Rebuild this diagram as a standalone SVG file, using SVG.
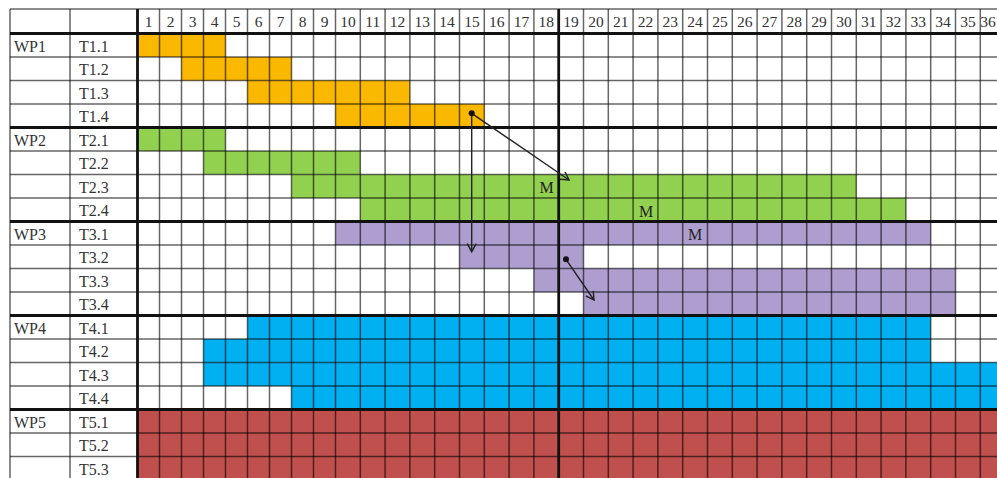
<svg xmlns="http://www.w3.org/2000/svg" width="997" height="478" viewBox="0 0 997 478">
<style>
text{font-family:"Liberation Serif","Times New Roman",serif;fill:#333;font-size:16px}
.h{text-anchor:middle;font-size:15.5px}
.m{text-anchor:middle;font-size:16px;fill:#222}
.o{fill:#FBB800}.g{fill:#92D050}.p{fill:#AE9ECF}.b{fill:#00B0F0}.r{fill:#C0504D}
.gl{stroke:#000;stroke-opacity:0.6;stroke-width:1.5;fill:none}
.tk{stroke:#111;stroke-width:2.8;fill:none}
.ar{stroke:#222;stroke-width:1.4;fill:none}
</style>
<defs>
<marker id="ah" markerWidth="12" markerHeight="12" refX="9" refY="5" orient="auto" markerUnits="userSpaceOnUse">
<path d="M1,0.5 L9,5 L1,9.5" fill="none" stroke="#222" stroke-width="1.4"/>
</marker>
</defs>
<rect x="0" y="0" width="997" height="478" fill="#fff"/>
<g id="bars">
<g id="wp1">
<rect class="o" x="137.5" y="33.5" width="88" height="23.5"/>
<rect class="o" x="181.5" y="57" width="110" height="23.5"/>
<rect class="o" x="247.5" y="80.5" width="162.4" height="23.5"/>
<rect class="o" x="335.5" y="104" width="148.8" height="23.5"/>
</g>
<g id="wp2">
<rect class="g" x="137.5" y="127.5" width="88" height="23.5"/>
<rect class="g" x="203.5" y="151" width="156.8" height="23.5"/>
<rect class="g" x="291.5" y="174.5" width="564.8" height="23.5"/>
<rect class="g" x="360.3" y="198" width="545.6" height="23.5"/>
</g>
<g id="wp3">
<rect class="p" x="335.5" y="221.5" width="595.2" height="23.5"/>
<rect class="p" x="459.5" y="245" width="124" height="23.5"/>
<rect class="p" x="533.9" y="268.5" width="421.6" height="23.5"/>
<rect class="p" x="583.5" y="292" width="372" height="23.5"/>
</g>
<g id="wp4">
<rect class="b" x="247.5" y="315.5" width="683.2" height="23.5"/>
<rect class="b" x="203.5" y="339" width="727.2" height="23.5"/>
<rect class="b" x="203.5" y="362.5" width="801.6" height="23.5"/>
<rect class="b" x="291.5" y="386" width="713.6" height="23.5"/>
</g>
<g id="wp5">
<rect class="r" x="137.5" y="409.5" width="867.6" height="70.5"/>
</g>
</g>
<g id="grid">
<path class="gl" d="M10,9V480M70,9V480M159.5,9V480M181.5,9V480M203.5,9V480M225.5,9V480M247.5,9V480M269.5,9V480M291.5,9V480M313.5,9V480M335.5,9V480M360.3,9V480M385.1,9V480M409.9,9V480M434.7,9V480M459.5,9V480M484.3,9V480M509.1,9V480M533.9,9V480M583.5,9V480M608.3,9V480M633.1,9V480M657.9,9V480M682.7,9V480M707.5,9V480M732.3,9V480M757.1,9V480M781.9,9V480M806.7,9V480M831.5,9V480M856.3,9V480M881.1,9V480M905.9,9V480M930.7,9V480M955.5,9V480M980.3,9V480"/>
<path class="gl" d="M10,9H997M10,57H997M10,80.5H997M10,104H997M10,151H997M10,174.5H997M10,198H997M10,245H997M10,268.5H997M10,292H997M10,339H997M10,362.5H997M10,386H997M10,433H997M10,456.5H997"/>
<path class="tk" d="M10,33.5H997M10,127.5H997M10,221.5H997M10,315.5H997M10,409.5H997M137.5,9V480M558.7,9V480"/>
</g>
<g id="header">
<text class="h" x="148.5" y="27">1</text><text class="h" x="170.5" y="27">2</text><text class="h" x="192.5" y="27">3</text><text class="h" x="214.5" y="27">4</text><text class="h" x="236.5" y="27">5</text><text class="h" x="258.5" y="27">6</text><text class="h" x="280.5" y="27">7</text><text class="h" x="302.5" y="27">8</text><text class="h" x="324.5" y="27">9</text>
<text class="h" x="347.9" y="27">10</text><text class="h" x="372.7" y="27">11</text><text class="h" x="397.5" y="27">12</text><text class="h" x="422.3" y="27">13</text><text class="h" x="447.1" y="27">14</text><text class="h" x="471.9" y="27">15</text><text class="h" x="496.7" y="27">16</text><text class="h" x="521.5" y="27">17</text><text class="h" x="546.3" y="27">18</text><text class="h" x="571.1" y="27">19</text><text class="h" x="595.9" y="27">20</text><text class="h" x="620.7" y="27">21</text><text class="h" x="645.5" y="27">22</text><text class="h" x="670.3" y="27">23</text><text class="h" x="695.1" y="27">24</text><text class="h" x="719.9" y="27">25</text><text class="h" x="744.7" y="27">26</text><text class="h" x="769.5" y="27">27</text><text class="h" x="794.3" y="27">28</text><text class="h" x="819.1" y="27">29</text><text class="h" x="843.9" y="27">30</text><text class="h" x="868.7" y="27">31</text><text class="h" x="893.5" y="27">32</text><text class="h" x="918.3" y="27">33</text><text class="h" x="943.1" y="27">34</text><text class="h" x="967.9" y="27">35</text><text class="h" x="988" y="27">36</text>
</g>
<g id="labels">
<text x="14" y="51.5">WP1</text><text x="79" y="51.5">T1.1</text>
<text x="79" y="75">T1.2</text><text x="79" y="98.5">T1.3</text><text x="79" y="122">T1.4</text>
<text x="14" y="145.5">WP2</text><text x="79" y="145.5">T2.1</text>
<text x="79" y="169">T2.2</text><text x="79" y="192.5">T2.3</text><text x="79" y="216">T2.4</text>
<text x="14" y="239.5">WP3</text><text x="79" y="239.5">T3.1</text>
<text x="79" y="263">T3.2</text><text x="79" y="286.5">T3.3</text><text x="79" y="310">T3.4</text>
<text x="14" y="333.5">WP4</text><text x="79" y="333.5">T4.1</text>
<text x="79" y="357">T4.2</text><text x="79" y="380.5">T4.3</text><text x="79" y="404">T4.4</text>
<text x="14" y="427.5">WP5</text><text x="79" y="427.5">T5.1</text>
<text x="79" y="451">T5.2</text><text x="79" y="474.5">T5.3</text>
</g>
<g id="milestones">
<text class="m" x="546.5" y="193">M</text>
<text class="m" x="646" y="216.5">M</text>
<text class="m" x="695" y="239.5">M</text>
</g>
<g id="connectors">
<line class="ar" x1="471.7" y1="113.3" x2="569" y2="180" marker-end="url(#ah)"/>
<line class="ar" x1="471.7" y1="113.3" x2="471.7" y2="251.7" marker-end="url(#ah)"/>
<line class="ar" x1="566" y1="259.3" x2="594" y2="300" marker-end="url(#ah)"/>
<circle cx="471.7" cy="113.3" r="3" fill="#111"/>
<circle cx="566" cy="259.3" r="3" fill="#111"/>
</g>
</svg>
